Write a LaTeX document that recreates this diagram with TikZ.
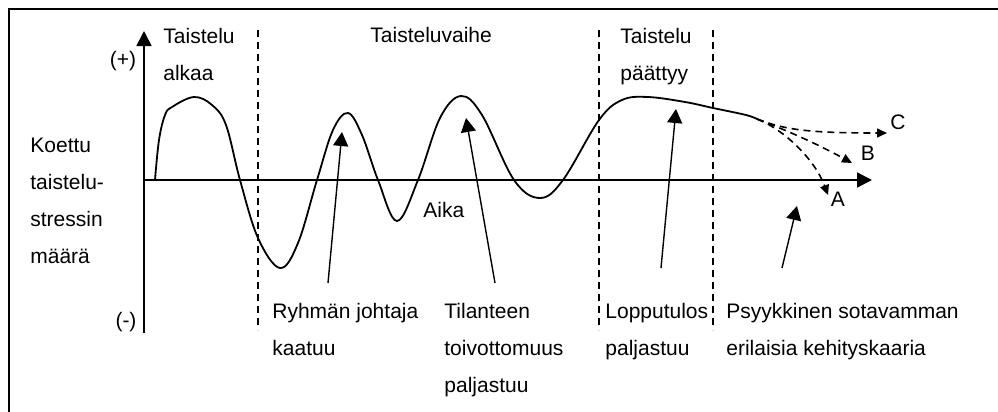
\documentclass[tikz,border=0pt]{standalone}
\usepackage{fontspec}
\setmainfont{Liberation Sans}
\usetikzlibrary{arrows.meta}
\definecolor{ink}{HTML}{000000}
\def\ax{180}   % level of the time axis
\def\yx{144}   % position of the stress axis

\begin{document}
\begin{tikzpicture}[
    x=0.5pt, y=-0.5pt,
    every node/.style={font=\fontsize{10.5}{18.5}\selectfont, color=ink,
                       inner sep=0pt},
    frame/.style={draw=ink, line width=1pt},
    axis/.style={-{Triangle[length=7.5pt,width=7.5pt]}, line width=0.9pt,
                 draw=ink},
    stress/.style={line width=0.9pt, draw=ink, line join=round},
    branch/.style={-{Triangle[length=5pt,width=4.5pt]}, line width=0.8pt,
                   draw=ink, dash pattern=on 3.5pt off 2.5pt},
    phase/.style={draw=ink, line width=0.8pt, dash pattern=on 3.5pt off 2.5pt},
    pointer/.style={-{Triangle[length=7pt,width=7.5pt]}, line width=0.7pt,
                    draw=ink},
    label/.style={anchor=base west, align=left},
    ]

\useasboundingbox (0,0) rectangle (998,412);

% ====================================================================
% Frame (only top and left edges visible)
% ====================================================================
\draw[frame] (9,412) -- (9,9) -- (998,9);

% ====================================================================
% Axes
% ====================================================================
\coordinate (yBot) at (\yx,333);
\coordinate (yTop) at (\yx,31);
\coordinate (xEnd) at (872,\ax);
\draw[axis] (yBot) -- (yTop);
\draw[axis] (\yx,\ax) -- (xEnd);

\node (plus)  at (123,61)  {(+)};
\node (minus) at (126,322) {(-)};
% multi-line labels sit on the baseline of their last line
\node[label] (stressLbl) at (30,263) {Koettu\\taistelu-\\stressin\\määrä};
\node[label] (timeLbl) at (423,217) {Aika};

% ====================================================================
% Phase borders and titles
% ====================================================================
\foreach \px in {258,599,713}
  \draw[phase] (\px,30) -- (\px,330);

\node[label] (start) at (163,80) {Taistelu\\alkaa};
\node[label] (fight) at (370,42) {Taisteluvaihe};
\node[label] (end)   at (620,80) {Taistelu\\päättyy};

% ====================================================================
% Stress curve
% ====================================================================
\draw[stress] plot[smooth, tension=0.6] coordinates {
  (155,180) (159,140) (165,115) (172,107) (194,97) (212,105) (226,125)
  (240,180) (258,238) (280,268) (298,243) (317,180) (333,130) (348,113)
  (362,135) (378,180) (397,221) (418,180) (440,118) (461,96) (482,115)
  (514,180) (540,198) (563,180) (599,120) (622,100) (648,97) (685,102)
  (713,108) (746,115) (757,119)};
\coordinate (fork) at (757,119);

% Alternative outcomes
\coordinate (tipC) at (887,133);
\coordinate (tipB) at (852,163);
\coordinate (tipA) at (828,195);
\draw[branch] (fork) .. controls (785,130) and (810,133) .. (tipC);
\draw[branch] (fork) .. controls (780,128) and (810,140) .. (tipB);
\draw[branch] (fork) .. controls (785,130) and (815,160) .. (tipA);
\node (lblC) at (898,122) {C};
\node (lblB) at (868,153) {B};
\node (lblA) at (838,199) {A};

% ====================================================================
% Events and pointers
% ====================================================================
\node[label] (leader) at (272,355) {Ryhmän johtaja\\kaatuu};
\node[label] (hope)   at (444,392) {Tilanteen\\toivottomuus\\paljastuu};
\node[label] (result) at (605,355) {Lopputulos\\paljastuu};
\node[label] (trauma) at (726,355) {Psyykkinen sotavamman\\erilaisia kehityskaaria};

\coordinate (p1a) at (328,283); \coordinate (p1b) at (342,132);
\coordinate (p2a) at (495,283); \coordinate (p2b) at (466,118);
\coordinate (p3a) at (661,268); \coordinate (p3b) at (676,109);
\coordinate (p4a) at (782,268); \coordinate (p4b) at (797,206);
\foreach \i in {1,...,4}
  \draw[pointer] (p\i a) -- (p\i b);

\end{tikzpicture}
\end{document}
